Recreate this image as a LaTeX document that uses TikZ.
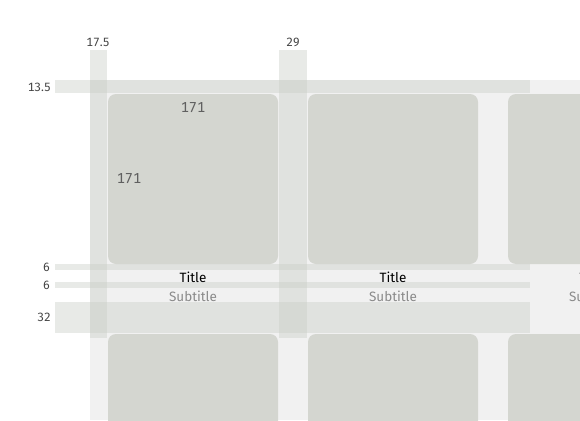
\documentclass[tikz,border=0pt]{standalone}
\usepackage{fontspec}
\setmainfont{Fira Sans}[Numbers=Monospaced]
\usetikzlibrary{positioning}
\definecolor{panelgray}{HTML}{F1F1F1}
\definecolor{cardgray}{HTML}{D4D6D0}
\definecolor{bandgray}{HTML}{C9CEC7}
\definecolor{dimgray}{HTML}{444444}
\definecolor{subgray}{HTML}{8A8A8A}

\begin{document}
\begin{tikzpicture}[
    x=1pt, y=-1pt,
    card/.style={
        fill=cardgray,
        rounded corners=8pt,
        minimum width=170pt,
        minimum height=170pt,
        inner sep=0pt
    },
    band/.style={
        fill=bandgray,
        fill opacity=0.42
    },
    dimlabel/.style={
        text=dimgray,
        inner sep=0pt,
        font=\fontsize{12}{14}\selectfont
    },
    sizelabel/.style={
        text=dimgray!85,
        inner sep=0pt,
        font=\fontsize{14.5}{17}\selectfont
    },
    titletext/.style={
        text=black,
        inner sep=0pt,
        font=\fontsize{13.5}{16}\selectfont
    },
    subtext/.style={
        titletext,
        text=subgray
    }
]
\useasboundingbox (0,0) rectangle (580,420);
\clip (0,0) rectangle (580,420);

% Sfondo
\fill[white] (0,0) rectangle (580,420);
\fill[panelgray] (90,80) rectangle (580,420);

% Schede
\foreach \i/\cx in {1/193, 2/393, 3/593} {
    \node[card] (top\i) at (\cx,179) {};
    \node[card] (bot\i) at (\cx,419) {};
    \node[titletext] (title\i) at (\cx,277) {Title};
    \node[subtext] (sub\i) at (\cx,296) {Subtitle};
}

% Misure della scheda
\node[sizelabel] (wlabel) at (193,108) {171};
\node[sizelabel] (hlabel) at (129,179) {171};

% Fasce orizzontali
\fill[band] (55,80) rectangle (530,93);
\fill[band] (55,264) rectangle (530,270);
\fill[band] (55,282) rectangle (530,288);
\fill[band] (55,302) rectangle (530,333);

% Fasce verticali
\fill[band] (90,50) rectangle (107,338);
\fill[band] (279,50) rectangle (307,338);

% Quote
\node[dimlabel] (gapleft) at (98,42) {17.5};
\node[dimlabel] (gapmid) at (293,42) {29};
\node[dimlabel, anchor=east] (padtop) at (51,87) {13.5};
\node[dimlabel, anchor=east] (gaptitle) at (50,267) {6};
\node[dimlabel, anchor=east] (gapsub) at (50,285) {6};
\node[dimlabel, anchor=east] (padbot) at (51,317) {32};

\end{tikzpicture}
\end{document}
